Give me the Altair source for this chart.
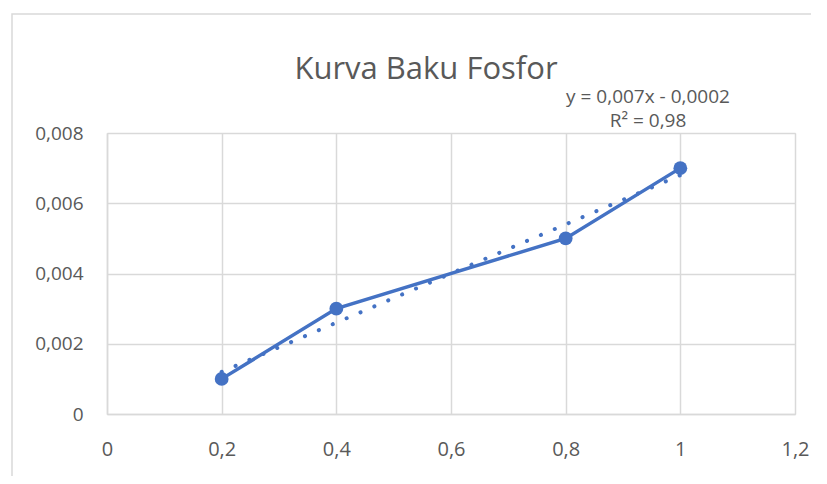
import altair as alt
import pandas as pd

# data
x_vals = [0.2, 0.4, 0.8, 1.0]
y_vals = [0.001, 0.003, 0.005, 0.007]
title_text = "Kurva Baku Fosfor"
equation_lines = ["y = 0,007x - 0,0002", "R² = 0,98"]
x_ticks = [0, 0.2, 0.4, 0.6, 0.8, 1.0, 1.2]
y_ticks = [0, 0.002, 0.004, 0.006, 0.008]

df = pd.DataFrame({"x": x_vals, "y": y_vals})

BLUE = "#4472C4"
GRID = "#d9d9d9"
TXT = "#595959"
FONT = "Open Sans"

x_enc = alt.X(
    "x:Q",
    scale=alt.Scale(domain=[0, 1.2], nice=False),
    axis=alt.Axis(
        values=x_ticks, title=None, grid=True, gridColor=GRID, gridWidth=1.5,
        domainColor=GRID, domainWidth=1.5, ticks=False, labelPadding=25,
        labelFontSize=20, labelColor=TXT, labelFont=FONT, labelFlush=False,
        labelExpr="replace(format(datum.value, '.1~f'), '.', ',')",
    ),
)
y_enc = alt.Y(
    "y:Q",
    scale=alt.Scale(domain=[0, 0.008], nice=False),
    axis=alt.Axis(
        values=y_ticks, title=None, grid=True, gridColor=GRID, gridWidth=1.5,
        domainColor=GRID, domainWidth=1.5, ticks=False, labelPadding=24,
        labelFontSize=19, labelColor=TXT, labelFont=FONT, labelFlush=False,
        labelExpr="replace(format(datum.value, '.3~f'), '.', ',')",
    ),
)

border = alt.Chart(alt.Data(values=[{"a": 1}])).mark_rect(
    fillOpacity=0, stroke=GRID, strokeWidth=1.5, clip=False
).encode(
    x=alt.value(-95), x2=alt.value(760), y=alt.value(-119), y2=alt.value(400)
)

line = alt.Chart(df).mark_line(color=BLUE, strokeWidth=3.5).encode(x=x_enc, y=y_enc)
points = alt.Chart(df).mark_circle(color=BLUE, size=190, opacity=1).encode(x="x:Q", y="y:Q")
trend = alt.Chart(df).transform_regression("x", "y").mark_line(
    color=BLUE, strokeWidth=4, strokeDash=[0.1, 15], strokeCap="round"
).encode(x="x:Q", y="y:Q")

eq = alt.Chart(alt.Data(values=[{"a": 1}])).mark_text(
    font=FONT, fontSize=19, color=TXT, align="center", baseline="middle",
    lineHeight=24, clip=False
).encode(
    x=alt.value(541), y=alt.value(-36), text=alt.value(equation_lines)
)

chart = alt.layer(border, trend, line, points, eq).properties(
    width=688,
    height=281,
    autosize=alt.AutoSizeParams(type="none"),
    padding={"left": 99, "top": 125, "right": 16, "bottom": 62},
    title=alt.TitleParams(
        title_text, font=FONT, fontSize=31, fontWeight="normal", color=TXT,
        anchor="middle", offset=0, dy=73, dx=-25,
    ),
).configure_view(stroke=None).configure(background="white")

chart.save("out.html", embed_options={"renderer": "svg", "actions": False})
